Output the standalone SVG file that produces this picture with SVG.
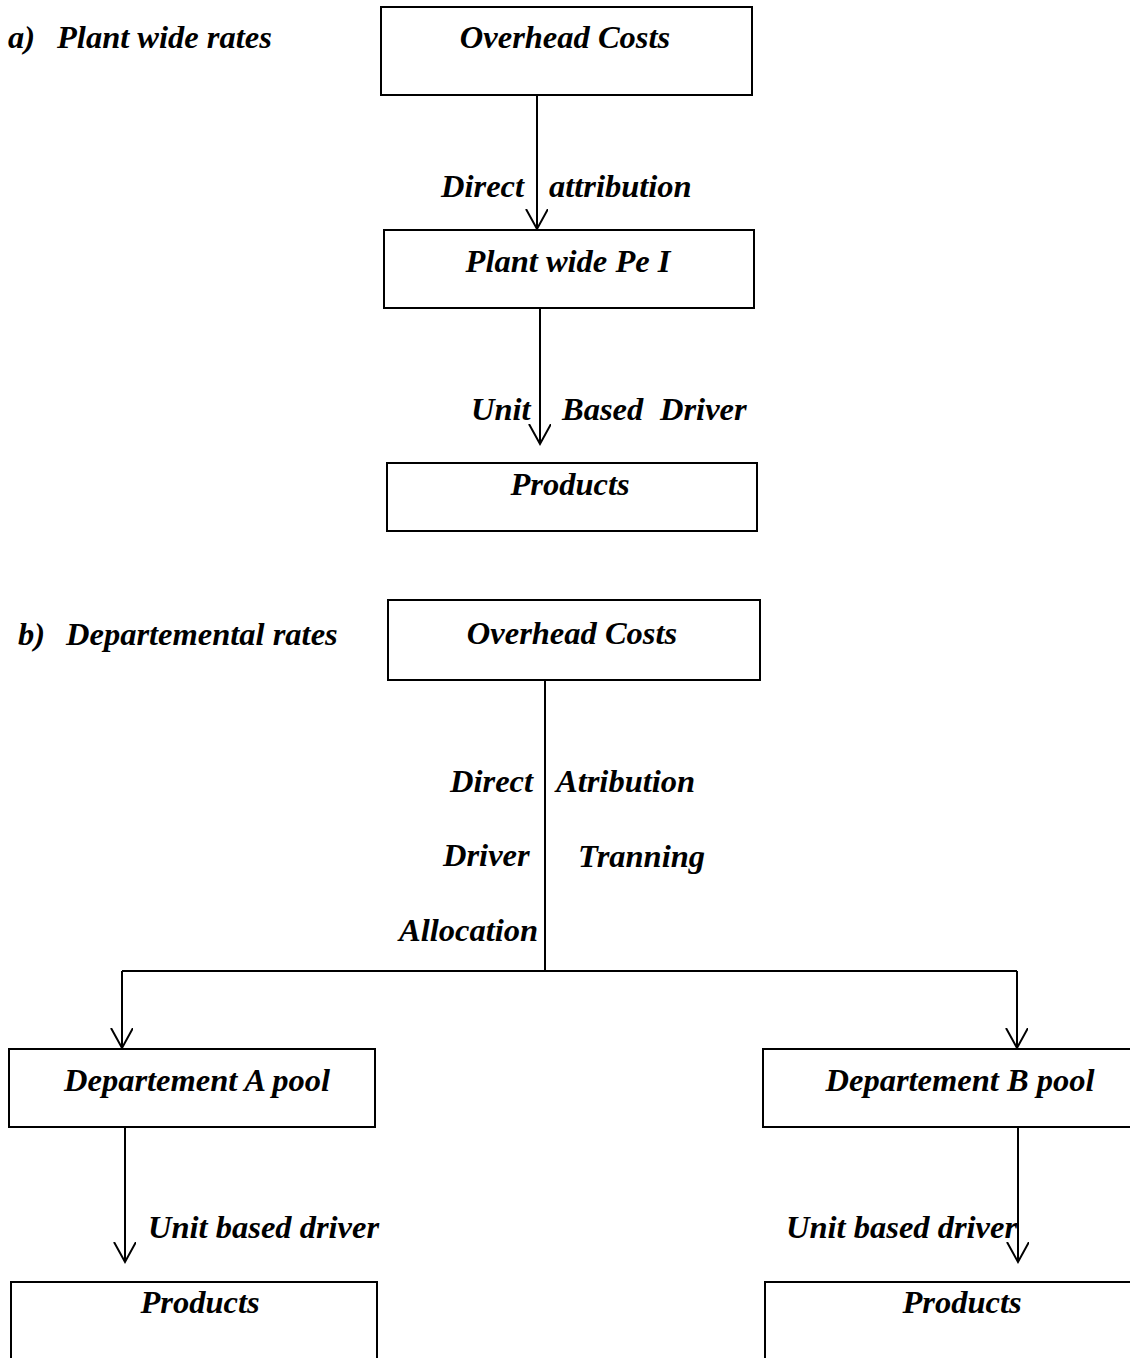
<svg xmlns="http://www.w3.org/2000/svg" width="1130" height="1358" viewBox="0 0 1130 1358">
<defs>
<style>
text{font-family:"Liberation Serif","Times New Roman",serif;font-style:italic;font-weight:bold;font-size:32.5px;fill:#000}
.c{text-anchor:middle}
.box{fill:#fff;stroke:#000;stroke-width:2}
.ln{fill:none;stroke:#000;stroke-width:2}
</style>
<marker id="arr" markerUnits="userSpaceOnUse" markerWidth="24" markerHeight="24" refX="20" refY="11" orient="auto"><path d="M0,0 L20,11 L0,22" fill="none" stroke="#000" stroke-width="2"/></marker>
</defs>
<rect width="1130" height="1358" fill="#fff"/>
<g id="title-a"><text x="8" y="48">a)</text><text x="57" y="48">Plant wide rates</text></g>
<g id="title-b"><text x="18" y="645">b)</text><text x="66" y="645">Departemental rates</text></g>
<g id="connectors">
<line class="ln" x1="537" y1="95" x2="537" y2="229" marker-end="url(#arr)"/>
<line class="ln" x1="540" y1="308" x2="540" y2="444" marker-end="url(#arr)"/>
<line class="ln" x1="545" y1="680" x2="545" y2="971"/>
<line class="ln" x1="122" y1="971" x2="1017" y2="971"/>
<line class="ln" x1="122" y1="971" x2="122" y2="1048" marker-end="url(#arr)"/>
<line class="ln" x1="1017" y1="971" x2="1017" y2="1048" marker-end="url(#arr)"/>
<line class="ln" x1="125" y1="1127" x2="125" y2="1262" marker-end="url(#arr)"/>
<line class="ln" x1="1018" y1="1127" x2="1018" y2="1262" marker-end="url(#arr)"/>
<text x="441" y="197">Direct</text><text x="549" y="197">attribution</text>
<text x="471" y="420">Unit</text><text x="562" y="420">Based</text><text x="660" y="420">Driver</text>
<text x="450" y="792">Direct</text><text x="556" y="792">Atribution</text>
<text x="443" y="866">Driver</text><text x="578" y="867">Tranning</text>
<text x="399" y="941">Allocation</text>
<text x="148" y="1238">Unit based driver</text>
<text x="786" y="1238">Unit based driver</text>
</g>
<g id="overhead-a"><rect class="box" x="381" y="7" width="371" height="88"/><text class="c" x="565" y="48">Overhead Costs</text></g>
<g id="plant-wide"><rect class="box" x="384" y="230" width="370" height="78"/><text class="c" x="568" y="272">Plant wide Pe I</text></g>
<g id="products-a"><rect class="box" x="387" y="463" width="370" height="68"/><text class="c" x="570" y="495">Products</text></g>
<g id="overhead-b"><rect class="box" x="388" y="600" width="372" height="80"/><text class="c" x="572" y="644">Overhead Costs</text></g>
<g id="dept-a"><rect class="box" x="9" y="1049" width="366" height="78"/><text class="c" x="197" y="1091">Departement A pool</text></g>
<g id="dept-b"><rect class="box" x="763" y="1049" width="375" height="78"/><text class="c" x="960" y="1091">Departement B pool</text></g>
<g id="products-b1"><rect class="box" x="11" y="1282" width="366" height="84"/><text class="c" x="200" y="1313">Products</text></g>
<g id="products-b2"><rect class="box" x="765" y="1282" width="375" height="84"/><text class="c" x="962" y="1313">Products</text></g>
</svg>
